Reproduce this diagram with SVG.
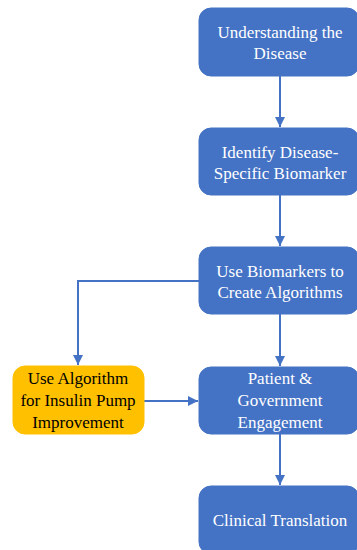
<svg xmlns="http://www.w3.org/2000/svg" width="357" height="550" viewBox="0 0 357 550">
<style>
.b{fill:#4472C4;stroke:#4472C4;stroke-width:1}
.o{fill:#FFC000;stroke:#FFC000;stroke-width:1}
text{font-family:'Liberation Serif',Tinos,'Times New Roman',Times,serif;font-size:17px;text-anchor:middle;fill:#ffffff}
.k{fill:#000000}
.c{fill:none;stroke:#4472C4;stroke-width:2}
</style>
<defs>
<marker id="ah" viewBox="0 0 10 10" refX="10" refY="5" markerWidth="5" markerHeight="5" orient="auto" markerUnits="strokeWidth">
<path d="M0,0 L10,5 L0,10 z" fill="#4472C4"/>
</marker>
</defs>
<g id="connectors">
<path class="c" d="M280,76 V127" marker-end="url(#ah)"/>
<path class="c" d="M280,195 V246" marker-end="url(#ah)"/>
<path class="c" d="M280,314 V366" marker-end="url(#ah)"/>
<path class="c" d="M199,281 H78 V365" marker-end="url(#ah)"/>
<path class="c" d="M144,401 H198" marker-end="url(#ah)"/>
<path class="c" d="M280,434 V485" marker-end="url(#ah)"/>
</g>
<g id="n1"><rect class="b" x="199" y="8" width="160" height="68" rx="12"/>
<text font-family="Liberation Serif, serif" x="280" y="38">Understanding the</text><text font-family="Liberation Serif, serif" x="280" y="59">Disease</text></g>
<g id="n2"><rect class="b" x="199" y="128" width="160" height="67" rx="12"/>
<text font-family="Liberation Serif, serif" x="280" y="158">Identify Disease-</text><text font-family="Liberation Serif, serif" x="280" y="179">Specific Biomarker</text></g>
<g id="n3"><rect class="b" x="199" y="247" width="160" height="67" rx="12"/>
<text font-family="Liberation Serif, serif" x="280" y="277">Use Biomarkers to</text><text font-family="Liberation Serif, serif" x="280" y="298">Create Algorithms</text></g>
<g id="n4"><rect class="b" x="199" y="367" width="160" height="67" rx="12"/>
<text font-family="Liberation Serif, serif" x="280" y="384">Patient &amp;</text><text font-family="Liberation Serif, serif" x="280" y="406">Government</text><text font-family="Liberation Serif, serif" x="280" y="428">Engagement</text></g>
<g id="n5"><rect class="o" x="13" y="366" width="131" height="68" rx="12"/>
<text class="k" font-family="Liberation Serif, serif" x="78" y="384">Use Algorithm</text><text class="k" font-family="Liberation Serif, serif" x="78" y="406">for Insulin Pump</text><text class="k" font-family="Liberation Serif, serif" x="78" y="428">Improvement</text></g>
<g id="n6"><rect class="b" x="199" y="486" width="160" height="68" rx="12"/>
<text font-family="Liberation Serif, serif" x="280" y="526">Clinical Translation</text></g>
</svg>
